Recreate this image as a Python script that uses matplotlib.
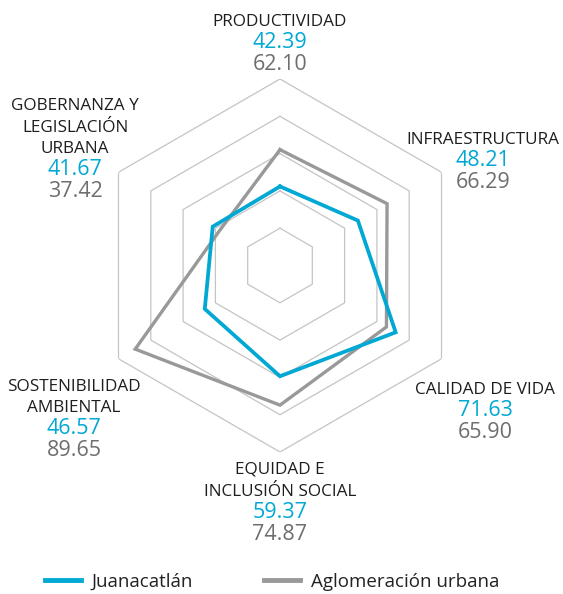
import numpy as np
import matplotlib
matplotlib.use('Agg')
import matplotlib.pyplot as plt

plt.rcParams['font.family'] = ['Open Sans', 'DejaVu Sans']

# data, clockwise from the top
categories = ['PRODUCTIVIDAD', 'INFRAESTRUCTURA', 'CALIDAD DE VIDA',
              'EQUIDAD E\nINCLUSIÓN SOCIAL', 'SOSTENIBILIDAD\nAMBIENTAL',
              'GOBERNANZA Y\nLEGISLACIÓN\nURBANA']
juanacatlan = [42.39, 48.21, 71.63, 59.37, 46.57, 41.67]
aglomeracion = [62.10, 66.29, 65.90, 74.87, 89.65, 37.42]
grid_levels = [20, 40, 60, 80, 100]

blue = '#00a8d3'
gray = '#999999'

W, H = 563, 594
fig = plt.figure(figsize=(W / 100, H / 100), dpi=100)

# polar axes: centre (280, 265.5) px, radius 186.5 px
cx, cy, R = 280, 265.5, 186.5
ax = fig.add_axes([(cx - R) / W, 1 - (cy + R) / H, 2 * R / W, 2 * R / H],
                  projection='polar')
ax.set_theta_offset(np.pi / 2)
ax.set_theta_direction(-1)
ax.set_ylim(0, 100)
ax.set_xticks([])
ax.set_yticks([])
ax.grid(False)
ax.spines['polar'].set_visible(False)
ax.patch.set_alpha(0)

n = len(categories)
theta = np.linspace(0, 2 * np.pi, n, endpoint=False)
theta_c = np.append(theta, theta[0])

# hexagonal grid
for lev in grid_levels:
    ax.plot(theta_c, [lev] * (n + 1), color='#c4c4c4', lw=0.9, zorder=1)

ax.plot(theta_c, aglomeracion + aglomeracion[:1], color=gray, lw=2.4,
        solid_joinstyle='miter', zorder=3, label='Aglomeración urbana')
ax.plot(theta_c, juanacatlan + juanacatlan[:1], color=blue, lw=2.7,
        solid_joinstyle='miter', zorder=4, label='Juanacatlán')

# label anchors in pixels: (x centre, y of first line centre)
label_pos = [(280, 22), (483, 140), (485, 390), (280, 470), (74, 387), (75, 106)]

def px(x, y):
    return x / W, 1 - y / H

for name, jv, av, (x, y) in zip(categories, juanacatlan, aglomeracion, label_pos):
    lines = name.split('\n')
    for line in lines:
        fig.text(*px(x, y), line, ha='center', va='center', fontsize=12.3,
                 color='#1e1e1e')
        y += 21.5
    fig.text(*px(x, y - 1), f'{jv:.2f}', ha='center', va='center',
             fontsize=15.5, color=blue)
    fig.text(*px(x, y + 21), f'{av:.2f}', ha='center', va='center',
             fontsize=15.5, color='#6e6e6e')

handles, labels = ax.get_legend_handles_labels()
fig.legend(handles[::-1], labels[::-1], loc='center left',
           bbox_to_anchor=(28 / W, 1 - 582 / H), ncol=2, frameon=False,
           fontsize=13.5, handlelength=1.9, handletextpad=0.6,
           columnspacing=3.8, labelcolor='#222222')
for line in fig.legends[0].get_lines():
    line.set_linewidth(3.5)

fig.savefig('out.png', dpi=100)
